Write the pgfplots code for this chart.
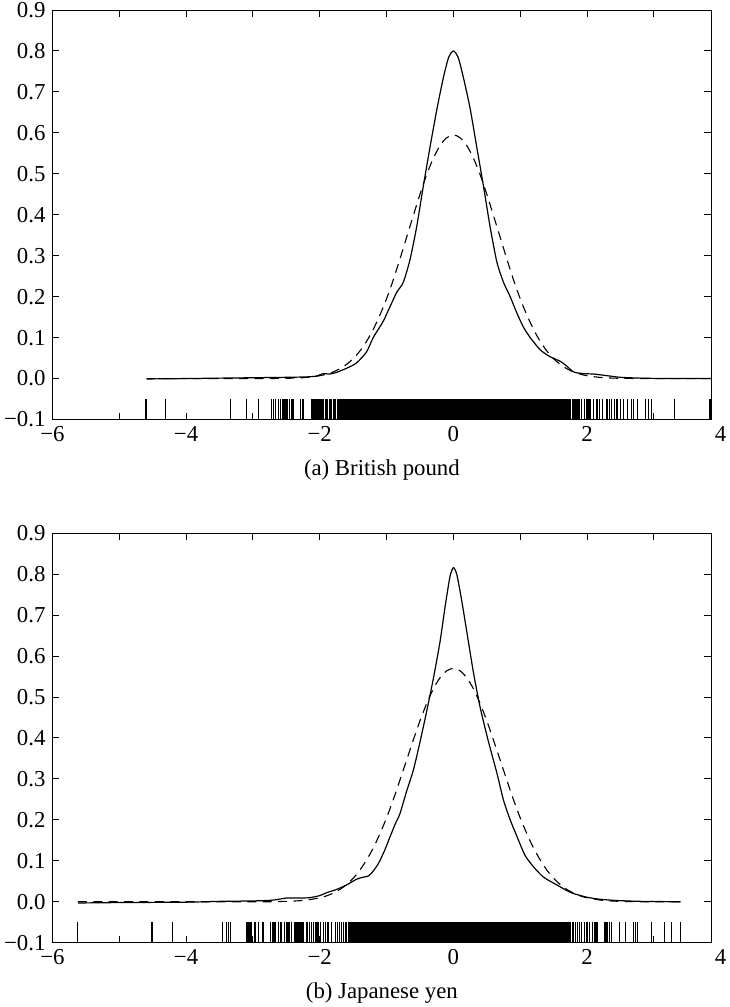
\documentclass[border=0pt]{standalone}
\usepackage{fontspec}
\setmainfont{Liberation Serif}
\usepackage{pgfplots}
\pgfplotsset{compat=1.18}
\newcommand{\fs}{\fontsize{11.4}{13}\selectfont}
\pgfplotsset{
  myaxis/.style={
    width=329.4pt, height=204.75pt, scale only axis,
    xmin=-6, xmax=3.86, ymin=-0.1, ymax=0.9,
    xtick={-6,-5,-4,-3,-2,-1,0,1,2,3},
    xticklabels={−6,,−4,,−2,,0,,2,},
    ytick={-0.1,0,0.1,0.2,0.3,0.4,0.5,0.6,0.7,0.8,0.9},
    yticklabels={−0.1,0.0,0.1,0.2,0.3,0.4,0.5,0.6,0.7,0.8,0.9},
    tick align=inside, major tick length=3.5pt,
    tick style={black, line width=0.5pt},
    axis line style={line width=0.5pt},
    ticklabel style={font=\fs},
    clip mode=individual,
    anchor=south west,
  },
  rug/.style={only marks, mark=|, mark size=5.12pt, mark options={line width=0.6pt}, black},
  kde/.style={black, line width=0.6pt, smooth, tension=0.4, mark=none},
  nrm/.style={black, line width=0.55pt, dash pattern=on 4.5pt off 3.2pt, smooth, mark=none},
}
\begin{document}
\begin{tikzpicture}
% ---------------- (a) British pound ----------------
\begin{axis}[myaxis, at={(0,0)}, name=pa]
\addplot[fill=black, draw=none] coordinates {(-1.74,-0.1) (1.76,-0.1) (1.76,-0.05) (-1.74,-0.05)} -- cycle;
\addplot[rug] coordinates {
(-4.60,-0.075) (-4.31,-0.075) (-3.33,-0.075) (-3.10,-0.075) (-2.92,-0.075)
(-2.72,-0.075) (-2.69,-0.075) (-2.66,-0.075) (-2.62,-0.075) (-2.59,-0.075)
(-2.55,-0.075) (-2.52,-0.075) (-2.49,-0.075) (-2.45,-0.075) (-2.42,-0.075)
(-2.40,-0.075) (-2.29,-0.075) (-2.25,-0.075) (-2.12,-0.075) (-2.10,-0.075)
(-2.08,-0.075) (-2.06,-0.075) (-2.04,-0.075) (-2.02,-0.075) (-2.00,-0.075)
(-1.98,-0.075) (-1.96,-0.075) (-1.94,-0.075) (-1.92,-0.075) (-1.90,-0.075)
(-1.88,-0.075) (-1.86,-0.075) (-1.84,-0.075) (-1.82,-0.075) (-1.80,-0.075)
(-1.78,-0.075) (-1.76,-0.075)
(1.78,-0.075) (1.80,-0.075) (1.82,-0.075) (1.85,-0.075) (1.88,-0.075)
(1.92,-0.075) (1.96,-0.075) (2.00,-0.075) (2.03,-0.075) (2.05,-0.075)
(2.10,-0.075) (2.15,-0.075) (2.19,-0.075) (2.23,-0.075) (2.30,-0.075)
(2.34,-0.075) (2.37,-0.075) (2.41,-0.075) (2.45,-0.075) (2.50,-0.075)
(2.55,-0.075) (2.60,-0.075) (2.67,-0.075) (2.69,-0.075) (2.75,-0.075)
(2.87,-0.075) (2.92,-0.075) (2.97,-0.075) (3.31,-0.075) (3.84,-0.075)
};
\addplot[kde] coordinates {
(-4.59,-0.001) (-4.0,0.0) (-3.5,0.001) (-3.0,0.002) (-2.5,0.003) (-2.2,0.004)
(-2.05,0.006) (-1.95,0.012) (-1.85,0.011) (-1.75,0.015) (-1.6,0.025) (-1.45,0.038)
(-1.3,0.065) (-1.2,0.10) (-1.05,0.14) (-0.95,0.175) (-0.85,0.21) (-0.75,0.235)
(-0.65,0.29) (-0.55,0.37) (-0.45,0.47) (-0.35,0.565) (-0.25,0.655) (-0.15,0.735)
(-0.07,0.785) (0,0.80) (0.07,0.785) (0.15,0.735) (0.25,0.66) (0.35,0.565)
(0.45,0.47) (0.55,0.37) (0.65,0.285) (0.75,0.235) (0.85,0.20) (0.95,0.16)
(1.05,0.125) (1.15,0.10) (1.3,0.07) (1.45,0.053) (1.6,0.042) (1.7,0.03)
(1.8,0.016) (1.95,0.012) (2.1,0.011) (2.3,0.007) (2.5,0.003) (2.8,0.001)
(3.2,0.0) (3.86,0.0)
};
\addplot[nrm] coordinates {
(-4.59,0) (-3.0,0) (-2.7,0.0002) (-2.4,0.0010) (-2.2,0.0027) (-2.0,0.0069)
(-1.9,0.0107) (-1.8,0.0161) (-1.7,0.0238) (-1.6,0.0344) (-1.5,0.0486)
(-1.4,0.0671) (-1.3,0.0906) (-1.2,0.120) (-1.1,0.155) (-1.0,0.195)
(-0.9,0.241) (-0.8,0.292) (-0.7,0.345) (-0.6,0.398) (-0.5,0.450)
(-0.4,0.498) (-0.3,0.538) (-0.2,0.569) (-0.1,0.588) (0,0.595)
(0.1,0.588) (0.2,0.569) (0.3,0.538) (0.4,0.498) (0.5,0.450)
(0.6,0.398) (0.7,0.345) (0.8,0.292) (0.9,0.241) (1.0,0.195)
(1.1,0.155) (1.2,0.120) (1.3,0.0906) (1.4,0.0671) (1.5,0.0486)
(1.6,0.0344) (1.7,0.0238) (1.8,0.0161) (1.9,0.0107) (2.0,0.0069)
(2.2,0.0027) (2.4,0.0010) (2.7,0.0002) (3.0,0) (3.86,0)
};
\node[anchor=north, font=\fs, inner sep=0.333em] at (axis cs:4,-0.1) {4};
\end{axis}
\node[font=\fs] at ([yshift=-25.25pt]pa.south) {(a) British pound};
% ---------------- (b) Japanese yen ----------------
\begin{axis}[myaxis, at={(0,-261.6pt)}, name=pb]
\addplot[fill=black, draw=none] coordinates {(-1.58,-0.1) (1.76,-0.1) (1.76,-0.05) (-1.58,-0.05)} -- cycle;
\addplot[rug] coordinates {
(-5.62,-0.075) (-4.51,-0.075) (-4.20,-0.075) (-3.45,-0.075) (-3.39,-0.075)
(-3.36,-0.075) (-3.34,-0.075) (-3.09,-0.075) (-3.06,-0.075) (-3.04,-0.075)
(-3.02,-0.075) (-2.97,-0.075) (-2.92,-0.075) (-2.85,-0.075) (-2.74,-0.075)
(-2.70,-0.075) (-2.67,-0.075) (-2.62,-0.075) (-2.59,-0.075) (-2.57,-0.075)
(-2.53,-0.075) (-2.49,-0.075) (-2.46,-0.075) (-2.42,-0.075) (-2.37,-0.075)
(-2.34,-0.075) (-2.31,-0.075) (-2.28,-0.075) (-2.25,-0.075) (-2.19,-0.075)
(-2.15,-0.075) (-2.12,-0.075) (-2.09,-0.075) (-2.06,-0.075) (-2.04,-0.075)
(-2.02,-0.075) (-1.99,-0.075) (-1.95,-0.075) (-1.92,-0.075) (-1.89,-0.075)
(-1.87,-0.075) (-1.82,-0.075) (-1.77,-0.075) (-1.74,-0.075) (-1.71,-0.075)
(-1.68,-0.075) (-1.65,-0.075) (-1.62,-0.075) (-1.60,-0.075)
(1.78,-0.075) (1.80,-0.075) (1.83,-0.075) (1.86,-0.075) (1.89,-0.075)
(1.92,-0.075) (1.96,-0.075) (2.00,-0.075) (2.04,-0.075) (2.08,-0.075)
(2.12,-0.075) (2.15,-0.075) (2.27,-0.075) (2.30,-0.075) (2.34,-0.075)
(2.37,-0.075) (2.49,-0.075) (2.57,-0.075) (2.69,-0.075) (2.72,-0.075)
(2.75,-0.075) (2.97,-0.075) (3.16,-0.075) (3.27,-0.075) (3.40,-0.075)
};
\addplot[kde] coordinates {
(-5.62,-0.003) (-5.0,-0.002) (-4.0,-0.001) (-3.5,0.001) (-3.0,0.002) (-2.7,0.004)
(-2.5,0.009) (-2.3,0.009) (-2.15,0.010) (-2.0,0.015) (-1.9,0.022) (-1.75,0.030)
(-1.6,0.041) (-1.45,0.055) (-1.35,0.060) (-1.27,0.063) (-1.2,0.075) (-1.12,0.094)
(-1.03,0.125) (-0.95,0.158) (-0.87,0.190) (-0.80,0.215) (-0.70,0.270) (-0.60,0.321)
(-0.50,0.390) (-0.40,0.465) (-0.30,0.545) (-0.20,0.635) (-0.12,0.725) (-0.05,0.795)
(0,0.816) (0.05,0.800) (0.12,0.740) (0.20,0.660) (0.30,0.560) (0.40,0.475)
(0.52,0.394) (0.65,0.315) (0.75,0.248) (0.85,0.200) (0.95,0.160) (1.07,0.114)
(1.20,0.085) (1.35,0.060) (1.55,0.041) (1.70,0.027) (1.80,0.020) (2.00,0.011)
(2.20,0.006) (2.45,0.003) (2.80,0.001) (3.40,0.0)
};
\addplot[nrm] coordinates {
(-5.62,0) (-3.0,0) (-2.7,0.0003) (-2.4,0.0016) (-2.2,0.0041) (-2.0,0.0096)
(-1.9,0.0143) (-1.8,0.0209) (-1.7,0.0299) (-1.6,0.0418) (-1.5,0.0574)
(-1.4,0.0771) (-1.3,0.102) (-1.2,0.131) (-1.1,0.166) (-1.0,0.205)
(-0.9,0.249) (-0.8,0.297) (-0.7,0.346) (-0.6,0.395) (-0.5,0.442)
(-0.4,0.484) (-0.3,0.520) (-0.2,0.547) (-0.1,0.564) (0,0.570)
(0.1,0.564) (0.2,0.547) (0.3,0.520) (0.4,0.484) (0.5,0.442)
(0.6,0.395) (0.7,0.346) (0.8,0.297) (0.9,0.249) (1.0,0.205)
(1.1,0.166) (1.2,0.131) (1.3,0.102) (1.4,0.0771) (1.5,0.0574)
(1.6,0.0418) (1.7,0.0299) (1.8,0.0209) (1.9,0.0143) (2.0,0.0096)
(2.2,0.0041) (2.4,0.0016) (2.7,0.0003) (3.0,0) (3.4,0)
};
\node[anchor=north, font=\fs, inner sep=0.333em] at (axis cs:4,-0.1) {4};
\end{axis}
\node[font=\fs] at ([yshift=-25.25pt]pb.south) {(b) Japanese yen};
\pgfresetboundingbox
\path (-26.25pt,-293.75pt) rectangle (338.25pt,209.75pt);
\end{tikzpicture}
\end{document}
